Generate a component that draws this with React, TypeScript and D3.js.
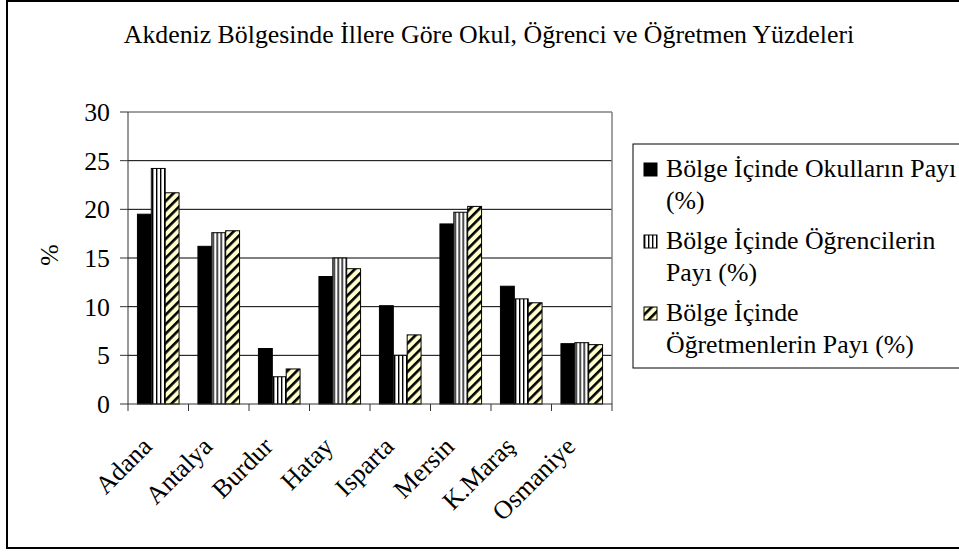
import React from "react";
import * as d3 from "d3";

const categories = ["Adana", "Antalya", "Burdur", "Hatay", "Isparta", "Mersin", "K.Maraş", "Osmaniye"];
const okulPayi = [19.5, 16.2, 5.7, 13.1, 10.1, 18.5, 12.1, 6.2];
const ogrenciPayi = [24.2, 17.6, 2.8, 15.0, 5.0, 19.7, 10.8, 6.3];
const ogretmenPayi = [21.7, 17.8, 3.6, 13.9, 7.1, 20.3, 10.4, 6.1];
const seriesNames = ["okul", "ogrenci", "ogretmen"];
const legendLines = [
  ["Bölge İçinde Okulların Payı", "(%)"],
  ["Bölge İçinde Öğrencilerin", "Payı (%)"],
  ["Bölge İçinde", "Öğretmenlerin Payı (%)"],
];
const yTicks = [0, 5, 10, 15, 20, 25, 30];

const W = 959;
const H = 552;
const FONT = "Liberation Serif";
const FS = 25.8;

// plot area
const plot = { left: 128, right: 612, top: 112, bottom: 404 };

const fills = ["#000", "url(#vstripe)", "url(#hatch)"];

export default function App() {
  const x0 = d3.scaleBand<string>().domain(categories).range([plot.left, plot.right]).padding(0);
  const x1 = d3
    .scaleBand<string>()
    .domain(seriesNames)
    .range([0, x0.bandwidth()])
    .paddingInner(0)
    .paddingOuter(0.68);
  const y = d3.scaleLinear().domain([0, 30]).range([plot.bottom, plot.top]);

  const values = [okulPayi, ogrenciPayi, ogretmenPayi];

  return (
    <svg width={W} height={H} style={{ position: "absolute", left: 0, top: 0, background: "#fff" }}>
      <defs>
        <pattern id="vstripe" width={4} height={4} patternUnits="userSpaceOnUse">
          <rect width={4} height={4} fill="#fff" />
          <rect x={0} width={1.4} height={4} fill="#000" />
        </pattern>
        <pattern
          id="hatch"
          width={6.7}
          height={6.7}
          patternUnits="userSpaceOnUse"
          patternTransform="rotate(45)"
        >
          <rect width={6.7} height={6.7} fill="#ffffcc" />
          <rect x={0} width={2.6} height={6.7} fill="#000" />
        </pattern>
      </defs>

      {/* outer frame */}
      <rect x={7} y={1} width={970} height={547} fill="none" stroke="#000" strokeWidth={2} />

      {/* title */}
      <text x={489} y={43} textAnchor="middle" fontFamily={FONT} fontSize={FS}>
        Akdeniz Bölgesinde İllere Göre Okul, Öğrenci ve Öğretmen Yüzdeleri
      </text>

      {/* gridlines */}
      {yTicks.slice(1, -1).map((t) => (
        <line key={t} x1={plot.left} x2={plot.right} y1={y(t)} y2={y(t)} stroke="#000" strokeWidth={1} />
      ))}
      {/* plot area border (top/right) */}
      <line x1={plot.left} x2={plot.right} y1={plot.top} y2={plot.top} stroke="#808080" strokeWidth={1.5} />
      <line x1={plot.right} x2={plot.right} y1={plot.top} y2={plot.bottom} stroke="#808080" strokeWidth={1.5} />

      {/* bars */}
      {categories.map((c, i) => (
        <g key={c} transform={`translate(${x0(c)},0)`}>
          {seriesNames.map((s, j) => (
            <rect
              key={s}
              x={x1(s)}
              y={y(values[j][i])}
              width={x1.bandwidth()}
              height={y(0) - y(values[j][i])}
              fill={fills[j]}
              stroke="#000"
              strokeWidth={1}
            />
          ))}
        </g>
      ))}

      {/* y axis */}
      <line x1={plot.left} x2={plot.left} y1={plot.top} y2={plot.bottom} stroke="#333" strokeWidth={1} />
      {yTicks.map((t) => (
        <g key={t}>
          <line x1={plot.left - 8} x2={plot.left} y1={y(t)} y2={y(t)} stroke="#333" />
          <text x={110} y={y(t) + 9} textAnchor="end" fontFamily={FONT} fontSize={FS}>
            {t}
          </text>
        </g>
      ))}
      <text transform="translate(58,255) rotate(-90)" textAnchor="middle" fontFamily={FONT} fontSize={FS}>
        %
      </text>

      {/* x axis */}
      <line x1={plot.left} x2={plot.right} y1={plot.bottom} y2={plot.bottom} stroke="#333" />
      {[...categories.map((c) => x0(c) as number), plot.right].map((px, i) => (
        <line key={i} x1={px} x2={px} y1={plot.bottom} y2={plot.bottom + 7} stroke="#333" />
      ))}
      {categories.map((c) => {
        const cx = (x0(c) as number) + x0.bandwidth() / 2;
        return (
          <text
            key={c}
            transform={`translate(${cx - 5},448) rotate(-45)`}
            textAnchor="end"
            fontFamily={FONT}
            fontSize={FS}
          >
            {c}
          </text>
        );
      })}

      {/* legend */}
      <rect x={633} y={144} width={400} height={224} fill="#fff" stroke="#000" strokeWidth={1} />
      {legendLines.map((lines, i) => {
        const base = 177 + i * 72;
        return (
          <g key={i}>
            <rect x={644} y={base - 14} width={13} height={13} fill={fills[i]} stroke="#000" strokeWidth={1} />
            {lines.map((ln, k) => (
              <text key={k} x={666} y={base + k * 32} fontFamily={FONT} fontSize={FS}>
                {ln}
              </text>
            ))}
          </g>
        );
      })}
    </svg>
  );
}
